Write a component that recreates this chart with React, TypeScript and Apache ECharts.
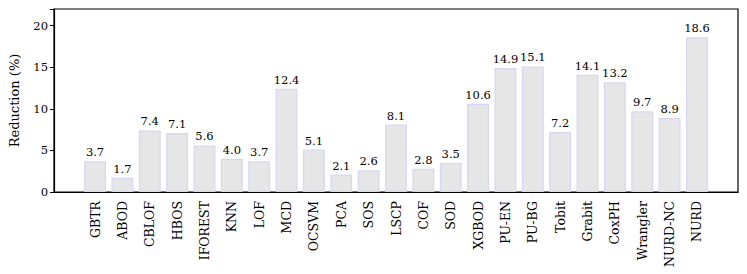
import React, { useEffect, useRef } from "react";
import * as echarts from "echarts";

const categories = ["GBTR","ABOD","CBLOF","HBOS","IFOREST","KNN","LOF","MCD","OCSVM","PCA","SOS","LSCP","COF","SOD","XGBOD","PU-EN","PU-BG","Tobit","Grabit","CoxPH","Wrangler","NURD-NC","NURD"];
const values = [3.7,1.7,7.4,7.1,5.6,4.0,3.7,12.4,5.1,2.1,2.6,8.1,2.8,3.5,10.6,14.9,15.1,7.2,14.1,13.2,9.7,8.9,18.6];
const yTicks = [0, 5, 10, 15, 20];

const FONT = "'DejaVu Serif', 'Liberation Serif', serif";

export default function App() {
  const ref = useRef<HTMLDivElement>(null);
  useEffect(() => {
    document.body.style.margin = "0";
    const chart = echarts.init(ref.current!, undefined, { renderer: "svg" });
    const cats = ["", ...categories, ""];
    const data = [null, ...values, null];
    chart.setOption({
      animation: false,
      grid: { left: 52, top: 9, right: 9, bottom: 82, show: true, borderColor: "#000", borderWidth: 1.2, backgroundColor: "transparent" },
      xAxis: {
        type: "category",
        data: cats,
        boundaryGap: true,
        axisLine: { lineStyle: { color: "#000", width: 1.2 } },
        axisTick: { alignWithLabel: true, length: 4, lineStyle: { color: "#000" }, interval: (i: number) => i > 0 && i < cats.length - 1 },
        axisLabel: { rotate: 90, interval: 0, color: "#000", fontFamily: FONT, fontSize: 12.5, margin: 9 },
      },
      yAxis: {
        type: "value",
        min: 0,
        max: 22,
        interval: 5,
        name: "Reduction (%)",
        nameLocation: "middle",
        nameGap: 33,
        nameTextStyle: { color: "#000", fontFamily: FONT, fontSize: 13 },
        axisLine: { show: true, lineStyle: { color: "#000", width: 1.2 } },
        axisTick: { show: true, length: 4, lineStyle: { color: "#000" } },
        axisLabel: { color: "#000", fontFamily: FONT, fontSize: 11.5, margin: 6, formatter: (v: number) => (yTicks.includes(v) ? String(v) : "") },
        splitLine: { show: false },
      },
      series: [{
        type: "bar",
        data,
        barWidth: "80%",
        itemStyle: { color: "#e6e6e6", borderColor: "#d6d6f4", borderWidth: 1.2 },
        label: { show: true, position: "top", distance: 3, color: "#000", fontFamily: FONT, fontSize: 11.5, formatter: (p: any) => (p.value == null ? "" : Number(p.value).toFixed(1)) },
      }],
    });
    return () => chart.dispose();
  }, []);
  return <div ref={ref} style={{ width: 747, height: 274 }} />;
}
